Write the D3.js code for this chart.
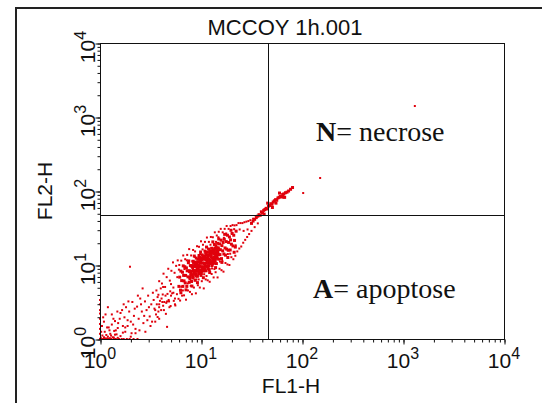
<!DOCTYPE html>
<html lang="en">
<head>
    <meta charset="UTF-8">
    <title>MCCOY 1h.001</title>
    <script src="https://d3js.org/d3.v7.min.js"></script>
    <style>
        body { margin: 0; background: #fff; }
        .sans { font-family: "Liberation Sans", Arial, sans-serif; }
        .serif { font-family: "Liberation Serif", "Times New Roman", serif; }
    </style>
</head>
<body>
    <script>
        // Events in channel units (0-1023, 4-decade log amplifier): [FL1-H, FL2-H]
        const core = [
            [200,182],[202,214],[204,169],[205,235],[207,202],[209,231],[210,182],[212,220],[213,201],[215,250],
            [216,194],[217,220],[219,246],[220,182],[221,236],[223,215],[224,264],[226,196],[227,233],[228,213],
            [229,254],[231,228],[232,199],[233,251],[235,215],[236,269],[237,237],[238,228],[240,261],[241,203],
            [242,251],[243,218],[244,280],[245,239],[246,260],[247,217],[248,276],[249,235],[250,254],[251,289],
            [252,230],[253,264],[254,251],[255,281],[256,220],[257,274],[258,249],[259,291],[260,241],[261,263],
            [262,286],[263,235],[264,277],[265,260],[266,304],[267,251],[268,275],[269,236],[270,290],[271,270],
            [272,301],[273,249],[274,284],[275,263],[276,311],[277,240],[278,294],[279,272],[280,305],[281,261],
            [282,285],[283,314],[284,254],[285,297],[286,276],[287,309],[288,262],[289,295],[290,327],[291,276],
            [292,310],[293,289],[294,322],[295,261],[296,305],[297,279],[298,331],[299,291],[300,315],[301,276],
            [303,329],[304,292],[305,309],[307,342],[308,278],[309,323],[311,305],[312,334],[314,294],[315,345],
            [317,315],[318,290],[320,337],[321,311],[323,359],[325,307],[326,334],[328,353],[330,308],[331,343],
            [333,328],[335,365],[337,322],[339,359],[341,341],[343,318],[345,373],
            [226,236],[228,208],[230,235],[232,254],[234,222],[236,211],[238,253],[239,236],[241,266],[243,225],
            [245,253],[246,236],[248,267],[250,226],[251,253],[253,276],[254,239],[256,262],[258,237],[259,275],
            [261,250],[262,282],[264,262],[266,242],[267,279],[269,294],[270,262],[272,253],[273,290],[275,276],
            [276,254],[278,302],[279,266],[281,289],[283,280],[284,303],[286,268],[287,298],[289,280],[291,314],
            [292,271],[294,299],[296,282],[297,315],[299,298],[230,222],[235,247],[240,224],[244,264],[249,244],
            [255,269],[260,246],[265,287],[271,280],[277,272],[282,267],[288,304],[293,282],[298,306],[247,247],
            [257,227],[263,245],[268,298],[274,244],[280,290],[285,260],[290,284],[252,282],[242,234],[237,265],
            [205,160],[211,253],[218,170],[225,270],[233,183],[239,287],[247,195],[255,301],[262,212],[270,318],
            [278,230],[286,336],[293,247],[301,346],[309,265],[316,362],[324,282],[332,376],[340,300]
        ];
        const halo = [
            [140,100],[143,168],[146,76],[148,153],[150,200],[152,132],[155,100],[157,192],[159,154],[161,226],
            [163,128],[165,180],[167,87],[169,214],[171,156],[173,243],[175,130],[177,202],[179,114],[181,236],
            [183,158],[185,265],[187,132],[189,229],[191,116],[193,253],[195,155],[197,272],[199,139],[201,256],
            [203,133],[206,271],[208,150],[211,289],[213,151],[216,276],[218,136],[221,291],[223,168],[226,311],
            [228,163],[231,289],[233,155],[236,308],[238,178],[241,303],[243,158],[246,321],[248,186],[251,319],
            [253,178],[256,338],[258,200],[261,326],[263,175],[266,336],[268,206],[271,351],[273,203],[276,336],
            [278,198],[281,353],[283,225],[286,352],[288,213],[291,369],[293,231],[296,358],[298,213],[301,371],
            [303,243],[306,381],[308,238],[311,369],[313,233],[316,381],[318,263],[321,391],[323,258],[326,381],
            [328,256],[331,391],[333,283],[336,394],[338,276],[341,393],[343,288],[346,394],[348,303],[351,401],
            [353,313],[356,401],[358,320],[361,401],[363,333],[366,404],[368,343],[371,406],[373,353],[376,408],
            [378,363],[381,411],[384,374],[388,416],[392,387],[396,421],[400,400],
            [150,120],[160,180],[170,130],[180,190],[190,140],[200,240],[210,168],[220,272],[230,184],[240,284],
            [250,206],[260,310],[270,218],[280,326],[290,242],[300,352],[310,270],[320,365],[330,295],[340,380],
            [186,178],[196,214],[206,181],[214,242],[222,192],[234,269],[244,206],[254,294],[264,224],[274,312],
            [284,244],[294,336],[304,268],[314,350],[324,294],[334,366],[344,324],[354,379],[364,374],[374,379]
        ];
        const tail = [
            [384,400],[388,408],[392,414],[396,420],[400,425],[403,430],[406,428],[409,440],[412,436],[415,445],
            [418,448],[421,452],[424,450],[427,460],[430,462],[433,468],[436,466],[439,474],[442,478],[445,482],
            [448,480],[451,488],[454,490],[457,494],[460,492],[463,500],[466,502],[470,506],[474,508],[478,512],
            [483,518],[488,524],[416,432],[425,470],[437,455],[446,470],[455,505],[468,490],[464,491]
        ];
        const lowerLeft = [
            [22,40],[28,12],[34,70],[40,30],[46,55],[52,90],[58,22],[62,75],[66,110],[70,45],
            [74,95],[78,60],[82,128],[86,80],[90,35],[94,112],[98,70],[102,140],[106,95],[110,55],
            [114,130],[118,100],[122,150],[126,78],[130,120],[134,160],[138,105],[142,85],[146,145],[150,110],
            [154,175],[158,128],[162,100],[166,150],[170,42],[174,135],[178,165],[120,65],[96,150],[60,120],
            [44,95],[108,175],[132,60],[150,70],[80,20],[115,25],
            [30,85],[38,15],[56,100],[64,40],[72,130],[84,50],[88,105],[100,30],[104,120],[112,80],
            [124,110],[128,45],[136,135],[140,60],[144,120],[148,95],[156,140],[160,115],[168,125],[176,110],
            [180,150],[186,160],[190,120]
        ];
        const debris = [
            [0,0],[2,4],[4,0],[6,12],[0,18],[8,0],[10,6],[12,25],[0,35],[15,0],
            [16,14],[18,40],[0,52],[20,8],[22,0],[24,30],[0,70],[26,18],[28,0],[30,50],
            [0,88],[32,6],[35,0],[36,28],[0,100],[38,62],[40,0],[42,16],[0,120],[45,38],
            [48,0],[50,70],[0,135],[52,10],[55,0],[58,45],[60,0],[64,25],[68,0],[70,65],
            [75,0],[78,8],[85,0],[90,20],[95,0],[5,45],[10,60],[14,85],[20,110],[8,75],
            [3,25],[12,3],[25,3],[35,5],[45,4],[18,2]
        ];
        const strays = [[798,806],[558,557],[515,505],[76,250]];

        // Quadrant markers (linear units)
        const quadFL1 = 46;
        const quadFL2 = 47;

        const decades = [0, 1, 2, 3, 4];
        const title = "MCCOY 1h.001";
        const xLabel = "FL1-H";
        const yLabel = "FL2-H";

        const plot = { left: 100, top: 43, right: 504, bottom: 339 };

        const svg = d3.select("body").append("svg")
            .attr("width", 542)
            .attr("height", 403);

        // Outer frame (runs off the right and bottom edges)
        svg.append("rect")
            .attr("x", 16).attr("y", 8)
            .attr("width", 600).attr("height", 500)
            .attr("fill", "none")
            .attr("stroke", "#222")
            .attr("stroke-width", 2);

        // Scales: channel scale for events, log scale for the axes
        const xChan = d3.scaleLinear().domain([0, 1024]).range([plot.left, plot.right]);
        const yChan = d3.scaleLinear().domain([0, 1024]).range([plot.bottom, plot.top]);
        const xLog = d3.scaleLog().domain([1, 1e4]).range([plot.left, plot.right]);
        const yLog = d3.scaleLog().domain([1, 1e4]).range([plot.bottom, plot.top]);

        // Events: dense populations drawn a bit larger so they read as solid
        const groups = [
            { data: lowerLeft.concat(debris, strays), size: 2 },
            { data: halo, size: 2 },
            { data: core, size: 3 },
            { data: tail, size: 3 }
        ];
        groups.forEach(gr => {
            svg.append("g")
                .selectAll("rect")
                .data(gr.data)
                .join("rect")
                .attr("x", d => xChan(d[0]) - gr.size / 2)
                .attr("y", d => yChan(d[1]) - gr.size / 2)
                .attr("width", gr.size)
                .attr("height", gr.size)
                .attr("fill", "#e0000c");
        });

        // Quadrant lines
        svg.append("line")
            .attr("x1", Math.round(xLog(quadFL1)) + 0.5).attr("x2", Math.round(xLog(quadFL1)) + 0.5)
            .attr("y1", plot.top).attr("y2", plot.bottom)
            .attr("stroke", "#111");
        svg.append("line")
            .attr("x1", plot.left).attr("x2", plot.right)
            .attr("y1", Math.round(yLog(quadFL2)) + 0.5).attr("y2", Math.round(yLog(quadFL2)) + 0.5)
            .attr("stroke", "#111");

        // Plot box
        svg.append("rect")
            .attr("x", plot.left + 0.5).attr("y", plot.top + 0.5)
            .attr("width", plot.right - plot.left).attr("height", plot.bottom - plot.top)
            .attr("fill", "none")
            .attr("stroke", "#111");

        // Axes: minor and major ticks
        const majorVals = decades.map(k => Math.pow(10, k));

        function styleAxis(g) {
            g.select(".domain").remove();
            g.selectAll("line").attr("stroke", "#111");
        }

        svg.append("g")
            .attr("transform", `translate(0.5,${plot.bottom + 0.5})`)
            .call(d3.axisBottom(xLog).tickValues(xLog.ticks()).tickSize(3).tickFormat(""))
            .call(styleAxis);
        svg.append("g")
            .attr("transform", `translate(0.5,${plot.bottom + 0.5})`)
            .call(d3.axisBottom(xLog).tickValues(majorVals).tickSize(5).tickFormat(""))
            .call(styleAxis);
        svg.append("g")
            .attr("transform", `translate(${plot.left + 0.5},0.5)`)
            .call(d3.axisLeft(yLog).tickValues(yLog.ticks()).tickSize(3).tickFormat(""))
            .call(styleAxis);
        svg.append("g")
            .attr("transform", `translate(${plot.left + 0.5},0.5)`)
            .call(d3.axisLeft(yLog).tickValues(majorVals).tickSize(5).tickFormat(""))
            .call(styleAxis);

        // Tick labels 10^k
        decades.forEach(k => {
            const t = svg.append("text")
                .attr("class", "sans")
                .attr("x", xLog(Math.pow(10, k)))
                .attr("y", 368)
                .attr("text-anchor", "middle")
                .attr("font-size", 21)
                .attr("fill", "#111");
            t.append("tspan").text("10");
            t.append("tspan").attr("dy", -9).attr("font-size", 16).text(k);

            const ty = svg.append("text")
                .attr("class", "sans")
                .attr("transform", `translate(95,${yLog(Math.pow(10, k)) + 4}) rotate(-90)`)
                .attr("text-anchor", "middle")
                .attr("font-size", 21)
                .attr("fill", "#111");
            ty.append("tspan").text("10");
            ty.append("tspan").attr("dy", -9).attr("font-size", 16).text(k);
        });

        // Title and axis labels
        svg.append("text")
            .attr("class", "sans")
            .attr("x", 285).attr("y", 35)
            .attr("text-anchor", "middle")
            .attr("font-size", 22)
            .attr("fill", "#111")
            .text(title);
        svg.append("text")
            .attr("class", "sans")
            .attr("x", 291).attr("y", 393)
            .attr("text-anchor", "middle")
            .attr("font-size", 21)
            .attr("fill", "#111")
            .text(xLabel);
        svg.append("text")
            .attr("class", "sans")
            .attr("transform", "translate(52,191) rotate(-90)")
            .attr("text-anchor", "middle")
            .attr("font-size", 21)
            .attr("fill", "#111")
            .text(yLabel);

        // Quadrant annotations
        const notes = [
            { key: "N", rest: "= necrose", x: 316, y: 141 },
            { key: "A", rest: "= apoptose", x: 313, y: 298 }
        ];
        notes.forEach(n => {
            const t = svg.append("text")
                .attr("class", "serif")
                .attr("x", n.x).attr("y", n.y)
                .attr("font-size", 28)
                .attr("fill", "#111");
            t.append("tspan").attr("font-weight", "bold").text(n.key);
            t.append("tspan").text(n.rest);
        });
    </script>
</body>
</html>
